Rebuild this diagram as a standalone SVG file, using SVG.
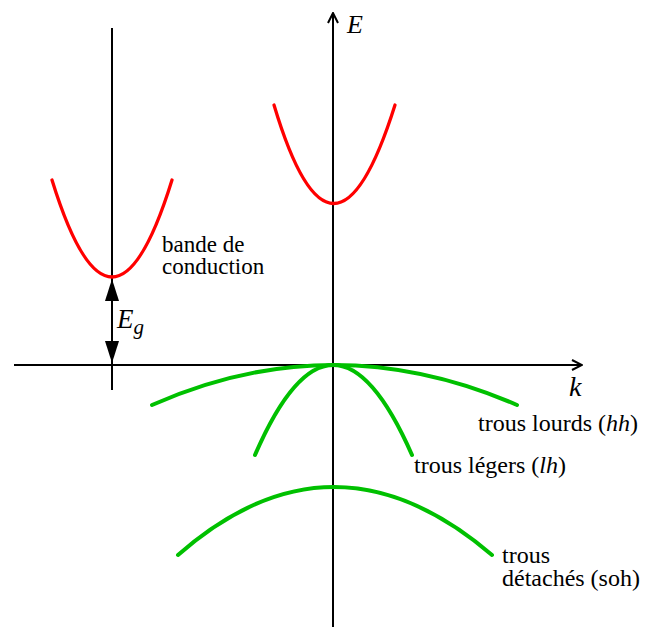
<svg xmlns="http://www.w3.org/2000/svg" width="647" height="627" viewBox="0 0 647 627">
<style>
.ax{stroke:#000;stroke-width:2;fill:none}
.cb{stroke:#ff0000;stroke-width:3.3;fill:none;stroke-linecap:round}
.vb{stroke:#00c000;stroke-width:4;fill:none;stroke-linecap:round}
</style>
<defs>
<marker id="open" viewBox="0 0 12 12" refX="11" refY="6" markerWidth="12" markerHeight="12" markerUnits="userSpaceOnUse" orient="auto">
<path d="M1,1 L11,6 L1,11" fill="none" stroke="#000" stroke-width="2"/>
</marker>
<marker id="tri" viewBox="0 0 22 14" refX="22" refY="7" markerWidth="22" markerHeight="14" markerUnits="userSpaceOnUse" orient="auto">
<path d="M0,0 L22,7 L0,14 Z" fill="#000"/>
</marker>
</defs>
<g id="connectors">
<line class="ax" x1="333" y1="627" x2="333" y2="13" marker-end="url(#open)"/>
<line class="ax" x1="14" y1="365" x2="582" y2="365" marker-end="url(#open)"/>
<line class="ax" x1="112" y1="28" x2="112" y2="390"/>
<line class="ax" x1="112" y1="321" x2="112" y2="279" marker-end="url(#tri)"/>
<line class="ax" x1="112" y1="321" x2="112" y2="363" marker-end="url(#tri)"/>
</g>
<g id="conduction-gamma"><path class="cb" d="M274,105 Q333,302 395,105"/></g>
<g id="conduction-side"><path class="cb" d="M52,180 Q112,374 172,180"/></g>
<g id="heavy-holes"><path class="vb" d="M152,405 Q333,325 517,405"/></g>
<g id="light-holes"><path class="vb" d="M255,455 Q333,275 412,455"/></g>
<g id="split-off"><path class="vb" d="M178,555 Q333,419 492,555"/></g>
<g id="labels">
<text x="347" y="33" font-family="Liberation Serif" font-size="26" font-style="italic">E</text>
<text x="569" y="396" font-family="Liberation Serif" font-size="28" font-style="italic">k</text>
<text x="117" y="328" font-family="Liberation Serif" font-size="27" font-style="italic">E<tspan font-size="21" dy="6">g</tspan></text>
<text font-family="Liberation Serif" font-size="23"><tspan x="162" y="252">bande de</tspan><tspan x="162" y="274">conduction</tspan></text>
<text x="478" y="431" font-family="Liberation Serif" font-size="24">trous lourds (<tspan font-style="italic">hh</tspan>)</text>
<text x="414" y="473" font-family="Liberation Serif" font-size="24">trous légers (<tspan font-style="italic">lh</tspan>)</text>
<text font-family="Liberation Serif" font-size="24"><tspan x="502" y="563">trous</tspan><tspan x="502" y="586">détachés (soh)</tspan></text>
</g>
</svg>
